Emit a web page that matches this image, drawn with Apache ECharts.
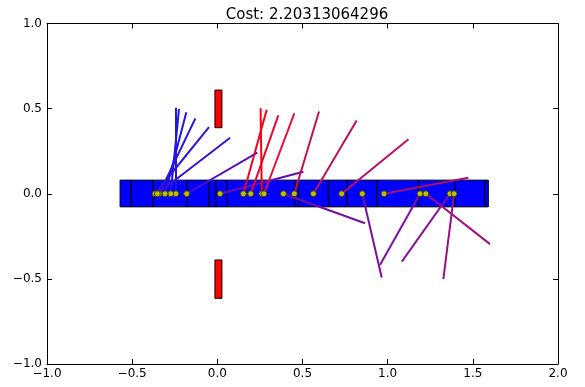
<!DOCTYPE html>
<html>
<head>
<meta charset="utf-8">
<script src="https://cdn.jsdelivr.net/npm/echarts@6/dist/echarts.min.js"></script>
<style>
  html, body { margin: 0; padding: 0; background: #fff; }
  #chart { width: 585px; height: 387px; }
</style>
</head>
<body>
<div id="chart"></div>
<script>
// chart data
const titleText = 'Cost: 2.20313064296';
const xTicks = [-1.0, -0.5, 0.0, 0.5, 1.0, 1.5, 2.0];
const yTicks = [-1.0, -0.5, 0.0, 0.5, 1.0];

// edges of the blue links along y = 0
const linkEdges = [-0.571, -0.506, -0.376, -0.180, -0.047, -0.008, 0.055, 0.456,
  0.476, 0.652, 0.760, 0.936, 1.180, 1.396, 1.572, 1.591];
const linkTop = 0.08;
const linkBottom = -0.077;

// red obstacles: [x0, x1, y0, y1]
const obstacles = [
  [-0.014, 0.027, 0.388, 0.609],
  [-0.014, 0.027, -0.614, -0.389]
];

// segments: start on y = 0, end point
const segStartX = [-0.243, -0.274, -0.307, -0.341, -0.366, -0.352, -0.180, 0.016,
  0.153, 0.196, 0.261, 0.274, 0.388, 0.452, 0.564, 0.730,
  0.851, 0.979, 1.190, 1.224, 1.366, 1.390];
const segEndX = [-0.244, -0.225, -0.182, -0.129, -0.049, 0.075, 0.235, 0.505,
  0.290, 0.358, 0.254, 0.452, 0.867, 0.597, 0.818, 1.122,
  0.965, 1.474, 0.955, 1.601, 1.083, 1.327];
const segEndY = [0.505, 0.498, 0.478, 0.443, 0.392, 0.329, 0.241, 0.129,
  0.494, 0.460, 0.502, 0.472, -0.173, 0.483, 0.430, 0.320,
  -0.492, 0.094, -0.419, -0.296, -0.399, -0.502];
const segColors = ['#1c18e4', '#2016e2', '#2414e0', '#2a14de', '#3012d8', '#3c10d0', '#5010c4', '#6010b4',
  '#f00024', '#ee0030', '#fa0010', '#e4103c', '#7010a8', '#c8104e', '#c01058', '#b81062',
  '#7810a0', '#a8106c', '#8010a0', '#a01078', '#881098', '#981088'];

const fmt = v => v.toFixed(1).replace('-', '\u2212');

const rects = [];
for (let i = 0; i < linkEdges.length - 1; i++) {
  rects.push([linkEdges[i], linkEdges[i + 1], linkBottom, linkTop, '#0000ff']);
}
obstacles.forEach(o => rects.push([o[0], o[1], o[2], o[3], '#ff0000']));

const segData = segStartX.map((x, i) => ({
  coords: [[x, 0], [segEndX[i], segEndY[i]]],
  lineStyle: { color: segColors[i] }
}));

const axisCommon = {
  type: 'value',
  axisLine: { show: true, onZero: false, lineStyle: { color: '#000', width: 1 } },
  axisTick: { show: true, inside: true, length: 5, lineStyle: { color: '#000' } },
  splitLine: { show: false }
};

const chart = echarts.init(document.getElementById('chart'), null, { renderer: 'canvas' });
chart.setOption({
  animation: false,
  backgroundColor: '#fff',
  title: {
    text: titleText,
    left: 302,
    textAlign: 'center',
    top: 3,
    textStyle: { fontFamily: 'DejaVu Sans', fontSize: 15, fontWeight: 'normal', color: '#000' }
  },
  grid: { left: 47, right: 27, top: 23.5, bottom: 23, containLabel: false },
  xAxis: [
    Object.assign({}, axisCommon, {
      position: 'bottom', min: -1, max: 2, interval: 0.5,
      axisLabel: { formatter: fmt, fontFamily: 'DejaVu Sans', fontSize: 12, color: '#000', margin: 4 }
    }),
    Object.assign({}, axisCommon, {
      position: 'top', min: -1, max: 2, interval: 0.5,
      axisLabel: { show: false }
    })
  ],
  yAxis: [
    Object.assign({}, axisCommon, {
      position: 'left', min: -1, max: 1, interval: 0.5,
      axisLabel: { formatter: fmt, fontFamily: 'DejaVu Sans', fontSize: 12, color: '#000', margin: 5 }
    }),
    Object.assign({}, axisCommon, {
      position: 'right', min: -1, max: 1, interval: 0.5,
      axisLabel: { show: false }
    })
  ],
  series: [
    {
      type: 'custom',
      z: 1,
      data: rects,
      renderItem: (params, api) => {
        const p0 = api.coord([api.value(0), api.value(3)]);
        const p1 = api.coord([api.value(1), api.value(2)]);
        return {
          type: 'rect',
          shape: { x: p0[0], y: p0[1], width: p1[0] - p0[0], height: p1[1] - p0[1] },
          style: { fill: rects[params.dataIndex][4], stroke: '#000', lineWidth: 1 }
        };
      }
    },
    {
      type: 'lines',
      coordinateSystem: 'cartesian2d',
      z: 2,
      lineStyle: { width: 2, opacity: 1 },
      data: segData
    },
    {
      type: 'scatter',
      z: 3,
      symbol: 'circle',
      symbolSize: 6,
      itemStyle: { color: '#bfbf00', borderColor: '#333', borderWidth: 1, opacity: 1 },
      data: segStartX.map(x => [x, 0])
    }
  ]
});
</script>
</body>
</html>
